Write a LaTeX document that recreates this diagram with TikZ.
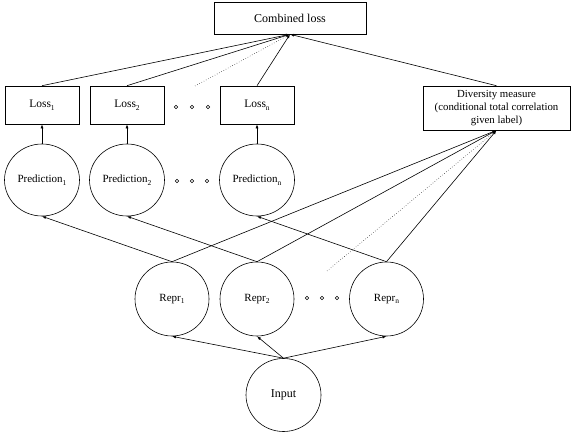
\documentclass[tikz,border=0pt]{standalone}
\usepackage{fontspec}
\setmainfont{Liberation Serif}
\usetikzlibrary{shapes.geometric,arrows.meta}
\newcommand{\lsub}[1]{\raisebox{-0.55ex}{\fontsize{7.5}{8}\selectfont #1}}
\begin{document}
\begin{tikzpicture}[x=1pt,y=-1pt,
  box/.style={draw,rectangle,line width=0.6pt,inner sep=0pt,font=\fontsize{11.5}{13}\selectfont},
  circ/.style={draw,ellipse,line width=0.6pt,inner sep=0pt,minimum width=75pt,minimum height=73pt,font=\fontsize{11}{13}\selectfont},
  conn/.style={line width=0.6pt,-{Latex[length=4pt,width=3pt]}},
  dotconn/.style={line width=0.5pt,dotted},
  dotmark/.style={draw,circle,line width=0.5pt,inner sep=0pt,minimum size=3.6pt}]
\useasboundingbox (0,0) rectangle (581,436);
% top
\node[box,minimum width=152pt,minimum height=32pt,font=\fontsize{12}{14}\selectfont] (comb) at (290,18) {Combined loss};
% losses
\node[box,minimum width=74pt,minimum height=38pt] (loss1) at (42,105) {Loss\lsub{1}};
\node[box,minimum width=74pt,minimum height=38pt] (loss2) at (127,105) {Loss\lsub{2}};
\node[box,minimum width=74pt,minimum height=38pt] (lossn) at (257,105) {Loss\lsub{n}};
\node[box,minimum width=147pt,minimum height=44pt,align=center,font=\fontsize{10.8}{12.8}\selectfont] (div) at (496.5,108) {Diversity measure\\(conditional total correlation\\given label)};
\node[dotmark] (ld1) at (176,107) {};
\node[dotmark] (ld2) at (192,107) {};
\node[dotmark] (ld3) at (208,107) {};
% predictions
\node[circ,minimum height=72pt] (pred1) at (42,180) {Prediction\lsub{1}};
\node[circ,minimum height=72pt] (pred2) at (127,180) {Prediction\lsub{2}};
\node[circ,minimum height=72pt] (predn) at (257,180) {Prediction\lsub{n}};
\node[dotmark] (pd1) at (177,181) {};
\node[dotmark] (pd2) at (192,181) {};
\node[dotmark] (pd3) at (207,181) {};
% representations
\node[circ,minimum width=74pt,minimum height=74pt] (repr1) at (172,299) {Repr\lsub{1}};
\node[circ,minimum width=74pt,minimum height=74pt] (repr2) at (257,299) {Repr\lsub{2}};
\node[circ,minimum width=74pt,minimum height=74pt] (reprn) at (386.5,299) {Repr\lsub{n}};
\node[dotmark] (rd1) at (307,298) {};
\node[dotmark] (rd2) at (322,298) {};
\node[dotmark] (rd3) at (337,298) {};
% input
\node[circ,font=\fontsize{12}{14}\selectfont] (input) at (283.5,395) {Input};
% free ends of dotted lines
\coordinate (dl) at (195,86);
\coordinate (dr) at (327,271);
% connectors to combined loss
\draw[conn] (loss1.north) -- (comb.south);
\draw[conn] (loss2.north) -- (comb.south);
\draw[conn] (lossn.north) -- (comb.south);
\draw[conn] (div.north) -- (comb.south);
\draw[dotconn] (dl) -- (comb.south);
% predictions to losses
\draw[conn] (pred1.north) -- (loss1.south);
\draw[conn] (pred2.north) -- (loss2.south);
\draw[conn] (predn.north) -- (lossn.south);
% representations to predictions
\draw[conn] (repr1.north) -- (pred1.south);
\draw[conn] (repr2.north) -- (pred2.south);
\draw[conn] (reprn.north) -- (predn.south);
% representations to diversity
\draw[conn] (repr1.north) -- (div.south);
\draw[conn] (repr2.north) -- (div.south);
\draw[conn] (reprn.north) -- (div.south);
\draw[dotconn] (dr) -- (div.south);
% input to representations
\draw[conn] (input.north) -- (repr1.south);
\draw[conn] (input.north) -- (repr2.south);
\draw[conn] (input.north) -- (reprn.south);
\end{tikzpicture}
\end{document}
